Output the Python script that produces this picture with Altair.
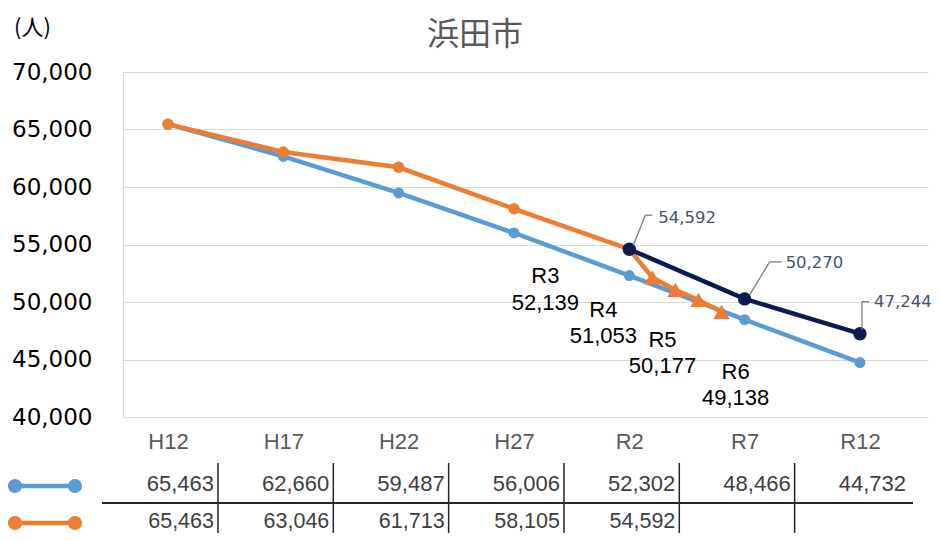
import altair as alt
import pandas as pd

# ---------------- data ----------------
categories = ["H12", "H17", "H22", "H27", "R2", "R7", "R12"]
years = [2000, 2005, 2010, 2015, 2020, 2025, 2030]
blue_vals = [65463, 62660, 59487, 56006, 52302, 48466, 44732]
orange_years = [2000, 2005, 2010, 2015, 2020]
orange_vals = [65463, 63046, 61713, 58105, 54592]
annual_names = ["R3", "R4", "R5", "R6"]
annual_years = [2021, 2022, 2023, 2024]
annual_vals = [52139, 51053, 50177, 49138]
navy_years = [2020, 2025, 2030]
navy_vals = [54592, 50270, 47244]
y_ticks = [40000, 45000, 50000, 55000, 60000, 65000, 70000]
title_text = "浜田市"
unit_text = "(人)"

# ---------------- styles ----------------
BLUE = "#5b9bd5"
ORANGE = "#ed7d31"
NAVY = "#0c1a52"
LABEL_NAVY = "#44546a"
GRID = "#d9d9d9"
TABLE_TXT = "#404040"

blue_df = pd.DataFrame({"year": years, "val": blue_vals})
orange_pts = pd.DataFrame({"year": orange_years, "val": orange_vals})
orange_line = pd.DataFrame({"year": orange_years + annual_years,
                            "val": orange_vals + annual_vals})
annual_df = pd.DataFrame({"year": annual_years, "val": annual_vals, "name": annual_names})
annual_df["label"] = annual_df["name"] + "\n" + annual_df["val"].map("{:,}".format)
navy_df = pd.DataFrame({"year": navy_years, "val": navy_vals})

x_scale = alt.Scale(domain=[1998.05, 2032.95], nice=False, zero=False)
y_scale = alt.Scale(domain=[40000, 70000], nice=False, zero=False)

label_expr = "{" + ",".join(f"'{y}':'{c}'" for y, c in zip(years, categories)) + "}[datum.value]"

x_axis = alt.Axis(values=years, labelExpr=label_expr, grid=False, domain=False,
                  ticks=False, tickSize=0, labelPadding=24, labelBaseline="middle",
                  labelFont="Liberation Sans", labelFontSize=22, labelColor="#595959",
                  title=None)
y_axis = alt.Axis(values=y_ticks, format=",", labelExpr="format(datum.value, ',')",
                  grid=True, gridColor=GRID, gridWidth=1.2,
                  domain=True, domainColor=GRID, domainWidth=1.2, ticks=False, tickSize=0,
                  labelFont="DejaVu Sans", labelFontSize=23, labelColor="#000000",
                  labelPadding=31, title=None)

X = alt.X("year:Q", scale=x_scale, axis=x_axis)
Y = alt.Y("val:Q", scale=y_scale, axis=y_axis)

layers = []

# blue line
layers.append(alt.Chart(blue_df).mark_line(color=BLUE, strokeWidth=4.5).encode(x=X, y=Y))
layers.append(alt.Chart(blue_df).mark_circle(color=BLUE, size=120, opacity=1).encode(x=X, y=Y))

# orange line
layers.append(alt.Chart(orange_line).mark_line(color=ORANGE, strokeWidth=4.5).encode(x=X, y=Y))
layers.append(alt.Chart(orange_pts).mark_circle(color=ORANGE, size=130, opacity=1).encode(x=X, y=Y))
layers.append(alt.Chart(annual_df).mark_point(shape="triangle-up", filled=True, color=ORANGE,
                                              size=270, opacity=1).encode(x=X, y=Y))

# navy projection
layers.append(alt.Chart(navy_df).mark_line(color=NAVY, strokeWidth=4.5).encode(x=X, y=Y))
layers.append(alt.Chart(navy_df).mark_circle(color=NAVY, size=180, opacity=1).encode(x=X, y=Y))

# annual labels (R3..R6)
annual_offsets = [(-107, -11), (-72, 10), (-36, 30), (14, 50)]
for i, (dx, dy) in enumerate(annual_offsets):
    layers.append(
        alt.Chart(annual_df.iloc[[i]]).mark_text(
            dx=dx, dy=dy, align="center", baseline="top", lineBreak="\n", lineHeight=26.5,
            font="Liberation Sans", fontSize=22, color="#000000"
        ).encode(x=X, y=Y, text="label:N")
    )

# navy labels + leader lines
navy_offsets = [(29, -31), (41, -36), (14, -32)]
leaders = [
    [(4, -4, 16, -34), (16, -34, 23, -34)],
    [(5, -4, 25, -37), (25, -37, 37, -37)],
    [(2, -4, 2, -32), (2, -32, 9, -32)],
]
for i, (dx, dy) in enumerate(navy_offsets):
    one = navy_df.iloc[[i]]
    for (a, b, c, d) in leaders[i]:
        layers.append(
            alt.Chart(one).mark_rule(xOffset=a, yOffset=b, x2Offset=c, y2Offset=d,
                                     color="#7f7f7f", strokeWidth=1.3)
            .encode(x=X, y=Y, x2="year:Q", y2="val:Q")
        )
    layers.append(
        alt.Chart(one).mark_text(dx=dx, dy=dy, align="left", baseline="middle",
                                 font="DejaVu Sans", fontSize=16.5, color=LABEL_NAVY)
        .encode(x=X, y=Y, text=alt.Text("val:Q", format=","))
    )

# title and unit
layers.append(
    alt.Chart(pd.DataFrame({"t": [title_text]})).mark_text(
        font="Noto Sans CJK JP", fontSize=32, color="#595959", align="center", baseline="middle"
    ).encode(x=alt.value(352), y=alt.value(-37), text="t:N")
)
layers.append(
    alt.Chart(pd.DataFrame({"t": [unit_text]})).mark_text(
        font="Noto Sans CJK JP", fontSize=22, color="#000000", align="left", baseline="middle"
    ).encode(x=alt.value(-109), y=alt.value(-44), text="t:N")
)

# ---------------- data table below ----------------
one_row = pd.DataFrame({"k": [0]})
layers.append(
    alt.Chart(one_row).mark_rule(color="#262626", strokeWidth=2)
    .encode(x=alt.value(-21), x2=alt.value(790), y=alt.value(431))
)
layers.append(
    alt.Chart(pd.DataFrame({"year": years[:-1]})).mark_rule(color="#262626", strokeWidth=1.5, xOffset=50)
    .encode(x=X, y=alt.value(391), y2=alt.value(470))
)
layers.append(
    alt.Chart(blue_df).mark_text(align="right", baseline="middle", dx=46, font="Liberation Sans",
                                 fontSize=22, color=TABLE_TXT)
    .encode(x=X, y=alt.value(412), text=alt.Text("val:Q", format=","))
)
layers.append(
    alt.Chart(orange_pts).mark_text(align="right", baseline="middle", dx=46, font="Liberation Sans",
                                    fontSize=21.5, color=TABLE_TXT)
    .encode(x=X, y=alt.value(450), text=alt.Text("val:Q", format=","))
)

# legend keys
for color, yy in [(BLUE, 414), (ORANGE, 451)]:
    layers.append(
        alt.Chart(one_row).mark_rule(color=color, strokeWidth=4.5)
        .encode(x=alt.value(-108), x2=alt.value(-48), y=alt.value(yy))
    )
    for xx in (-108, -48):
        layers.append(
            alt.Chart(one_row).mark_circle(color=color, size=200, opacity=1)
            .encode(x=alt.value(xx), y=alt.value(yy))
        )

chart = alt.layer(*layers).properties(
    width=805,
    height=345,
    autosize=alt.AutoSizeParams(type="none"),
    padding={"left": 115, "top": 64, "right": 4, "bottom": 116},
).configure_view(strokeOpacity=0)

chart.save("out.html", embed_options={"renderer": "svg", "actions": False})
